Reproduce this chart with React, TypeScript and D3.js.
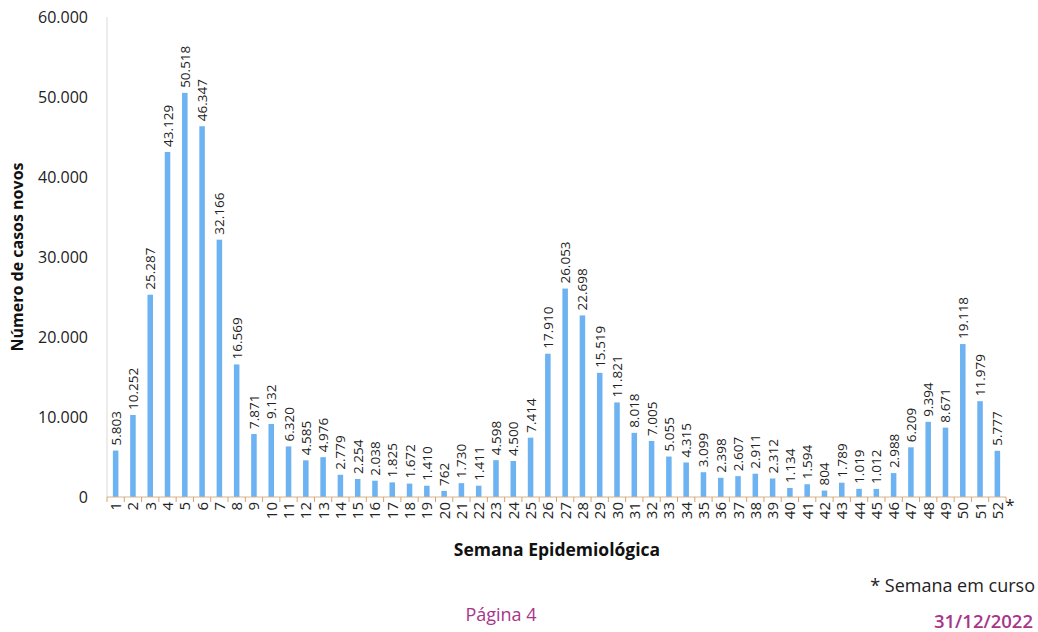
import React from "react";
import * as d3 from "d3";

// Epidemiological weeks and weekly new cases
const weeks: string[] = Array.from({ length: 52 }, (_, i) => String(i + 1));
const cases: number[] = [
  5803, 10252, 25287, 43129, 50518, 46347, 32166, 16569, 7871, 9132,
  6320, 4585, 4976, 2779, 2254, 2038, 1825, 1672, 1410, 762,
  1730, 1411, 4598, 4500, 7414, 17910, 26053, 22698, 15519, 11821,
  8018, 7005, 5055, 4315, 3099, 2398, 2607, 2911, 2312, 1134,
  1594, 804, 1789, 1019, 1012, 2988, 6209, 9394, 8671, 19118,
  11979, 5777,
];
const yTicks: number[] = [0, 10000, 20000, 30000, 40000, 50000, 60000];

const W = 1038;
const H = 632;
const left = 107;
const right = 1006;
const top = 17;
const bottom = 497;

const locale = d3.formatLocale({
  decimal: ",",
  thousands: ".",
  grouping: [3],
  currency: ["R$", ""],
});
const fmt = locale.format(",d");

const FONT = "'Open Sans', 'Liberation Sans', sans-serif";
const BAR = "#6db3f2";
const MAGENTA = "#a8358a";

export default function App() {
  const x = d3.scaleBand<string>().domain(weeks).range([left, right]).paddingInner(0.68).paddingOuter(0.34);
  const y = d3.scaleLinear().domain([0, 60000]).range([bottom, top]);
  const step = x.step();

  return (
    <svg width={W} height={H} style={{ position: "absolute", left: 0, top: 0, background: "#fff" }}>
      {/* y axis line */}
      <line x1={left} x2={left} y1={top} y2={bottom} stroke="#d9d9d9" strokeWidth={1} />
      {yTicks.map((t) => (
        <text key={t} x={88} y={y(t)} dy="0.35em" textAnchor="end" fontFamily={FONT} fontSize={16} fill="#222">
          {fmt(t)}
        </text>
      ))}

      {/* bars */}
      {cases.map((v, i) => (
        <rect key={i} x={x(weeks[i])!} y={y(v)} width={x.bandwidth()} height={bottom - y(v)} fill={BAR} />
      ))}

      {/* value labels */}
      {cases.map((v, i) => {
        const cx = x(weeks[i])! + x.bandwidth() / 2;
        const cy = y(v) - 5;
        return (
          <text
            key={"l" + i}
            transform={`translate(${cx + 5},${cy}) rotate(-90)`}
            fontFamily={FONT}
            fontSize={13.5}
            fill="#222"
          >
            {fmt(v)}
          </text>
        );
      })}

      {/* x axis */}
      <line x1={left} x2={right} y1={bottom} y2={bottom} stroke="#d9b38c" strokeWidth={1} />
      {d3.range(weeks.length + 1).map((k) => (
        <line key={"t" + k} x1={left + k * step} x2={left + k * step} y1={bottom} y2={bottom + 5} stroke="#d9a06a" strokeWidth={1} />
      ))}
      {weeks.map((w) => {
        const cx = x(w)! + x.bandwidth() / 2;
        return (
          <text
            key={"x" + w}
            transform={`translate(${cx + 5.5},${bottom + 5}) rotate(-90)`}
            textAnchor="end"
            fontFamily={FONT}
            fontSize={15}
            fill="#222"
          >
            {w}
          </text>
        );
      })}
      <text x={right + 4} y={bottom + 14} textAnchor="middle" fontFamily={FONT} fontSize={17} fill="#222">*</text>

      {/* axis titles */}
      <text
        transform={`translate(23,${(top + bottom) / 2}) rotate(-90)`}
        textAnchor="middle"
        fontFamily={FONT}
        fontWeight="bold"
        fontSize={16}
        fill="#111"
      >
        Número de casos novos
      </text>
      <text x={557} y={556} textAnchor="middle" fontFamily={FONT} fontWeight="bold" fontSize={17.5} fill="#111">
        Semana Epidemiológica
      </text>

      {/* footer */}
      <text x={1035} y={592} textAnchor="end" fontFamily={FONT} fontSize={18} fill="#222">
        * Semana em curso
      </text>
      <text x={501} y={621} textAnchor="middle" fontFamily={FONT} fontSize={18} fill={MAGENTA}>
        Página 4
      </text>
      <text x={1033} y={628} textAnchor="end" fontFamily={FONT} fontWeight={600} fontSize={18.5} fill={MAGENTA}>
        31/12/2022
      </text>
    </svg>
  );
}
